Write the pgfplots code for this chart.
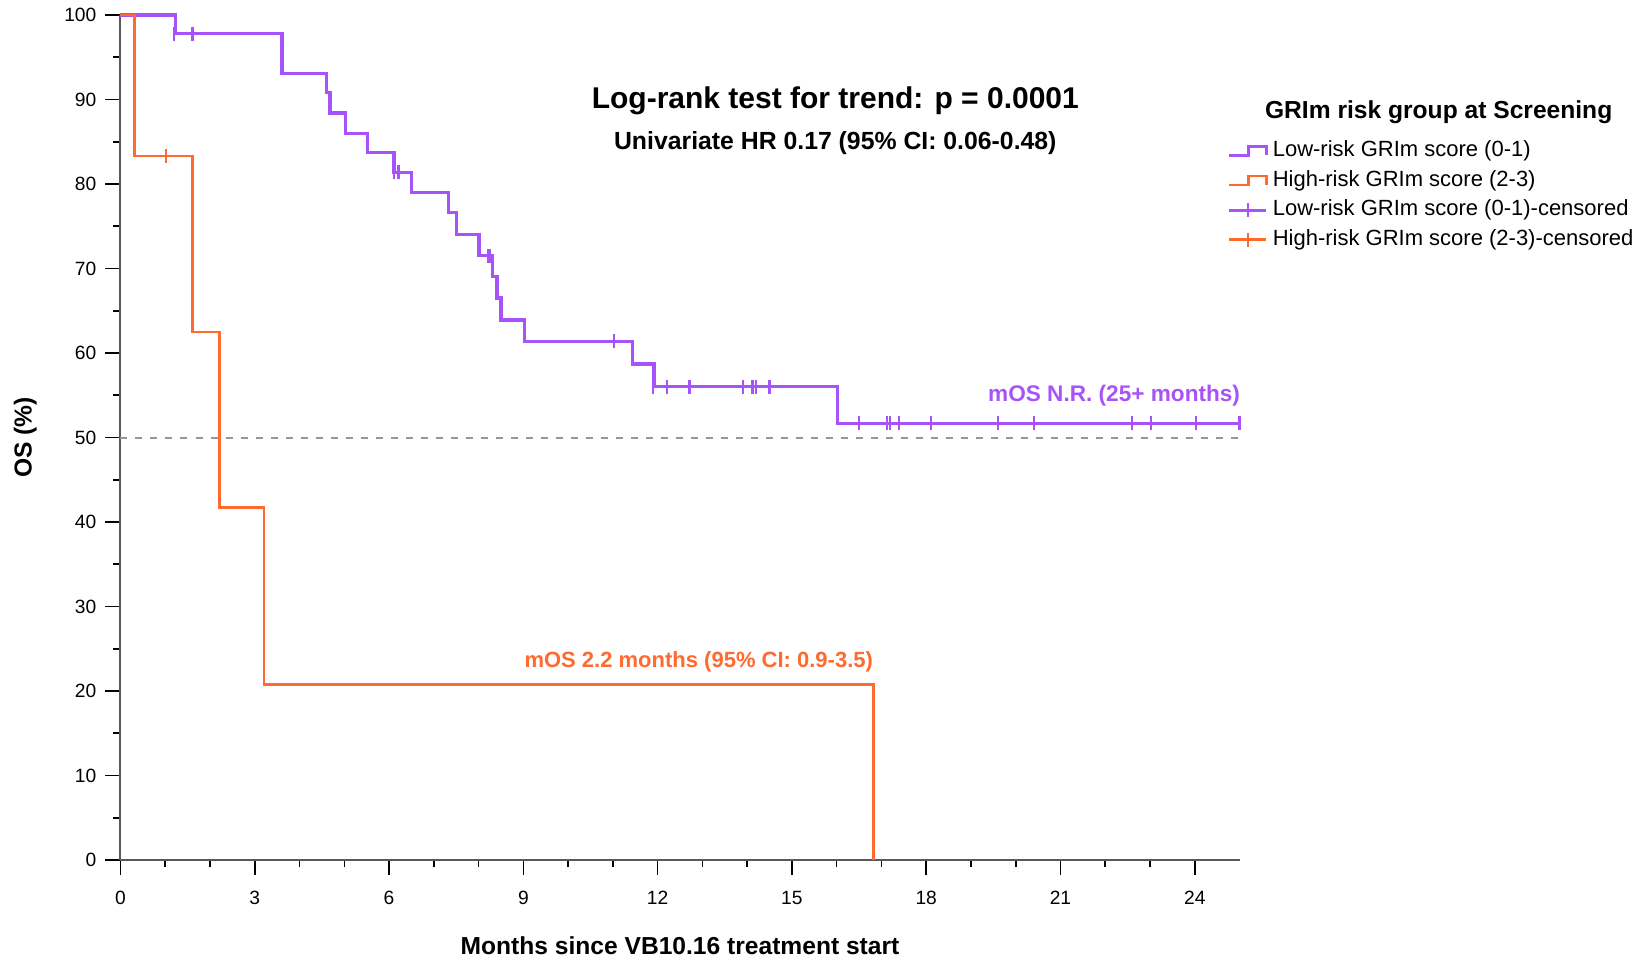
\documentclass[border=0pt]{standalone}
\usepackage{pgfplots}
\pgfplotsset{compat=1.18}
\usepackage{fontspec}
\setmainfont{Liberation Sans}
\definecolor{lowrisk}{RGB}{168,82,250}
\definecolor{highrisk}{RGB}{255,106,46}
\definecolor{refline}{RGB}{150,150,150}

\begin{document}
\begin{tikzpicture}
\useasboundingbox (-60.25pt,-49.5pt) rectangle (765.75pt,430pt);
\begin{axis}[
  scale only axis, width=559.5pt, height=422.5pt,
  xmin=0, xmax=25, ymin=0, ymax=100,
  axis lines=left, axis line style={-, line width=1pt, black!65},
  tick align=outside, major tick length=7.5pt, minor tick length=3.5pt,
  tick style={black, line width=0.8pt},
  xtick={0,3,...,24}, minor x tick num=2,
  ytick={0,10,...,100}, minor y tick num=1,
  /pgf/number format/assume math mode=true,
  ticklabel style={font=\fontsize{9.6}{11}\selectfont, inner sep=0pt},
  xticklabel style={anchor=center, yshift=-11.6pt},
  yticklabel style={anchor=east, xshift=-4.4pt},
  xlabel={\textbf{Months since VB10.16 treatment start}},
  ylabel={\textbf{OS (\%)}},
  label style={font=\fontsize{12.3}{14}\selectfont},
  xlabel style={at={(axis description cs:0.5,-0.102)}, anchor=center},
  ylabel style={at={(axis description cs:-0.085,0.5)}, anchor=center},
  clip=false,
  legend style={at={(axis description cs:0.9890,0.8520)}, anchor=north west,
    draw=none, fill=none, inner sep=0pt, row sep=4.3pt, column sep=2.5pt,
    font=\fontsize{11}{13}\selectfont,
    nodes={inner sep=0pt, text height=8pt, text depth=2.5pt}},
  legend cell align=left,
]
% median reference
\addplot[refline, line width=1pt, dash pattern=on 3.5pt off 4pt, forget plot]
  coordinates {(0,50) (25,50)};

% Kaplan-Meier steps
\addplot[lowrisk, line width=1.6pt, const plot,
  legend image code/.code={\draw[lowrisk,line width=1.6pt] (0pt,-2.25pt) -- (9.5pt,-2.25pt) -- (9.5pt,2.25pt) -- (18.5pt,2.25pt) -- (18.5pt,-2.25pt);}]
  coordinates {(0,100) (1.22,97.8) (3.61,93.1) (4.61,90.8) (4.68,88.4) (5.02,86.0)
    (5.52,83.7) (6.11,81.4) (6.51,79.0) (7.33,76.6) (7.51,74.0) (8.01,71.5)
    (8.31,69.1) (8.41,66.5) (8.50,63.9) (9.02,61.4) (11.43,58.7) (11.92,56.0)
    (16.01,51.7) (25,51.7)};
\addlegendentry{Low-risk GRIm score (0-1)}

\addplot[highrisk, line width=1.3pt, const plot,
  legend image code/.code={\draw[highrisk,line width=1.3pt] (0pt,-2.25pt) -- (9.5pt,-2.25pt) -- (9.5pt,2.25pt) -- (18.5pt,2.25pt) -- (18.5pt,-2.25pt);}]
  coordinates {(0,100) (0.31,83.3) (1.61,62.5) (2.21,41.7) (3.21,20.8) (16.82,0)};
\addlegendentry{High-risk GRIm score (2-3)}

% censored
\addplot[only marks, mark=|, mark size=3.5pt, mark options={lowrisk, line width=1.1pt},
  legend image code/.code={\draw[lowrisk,line width=1.6pt] (0pt,0pt) -- (18.5pt,0pt); \draw[lowrisk,line width=1.1pt] (9.25pt,-3.5pt) -- (9.25pt,3.5pt);}]
  coordinates {(1.2,97.8) (1.61,97.8) (6.11,81.4) (6.21,81.4) (8.21,71.5) (8.26,71.5)
    (11.02,61.4) (11.9,56.0) (12.21,56.0) (12.71,56.0) (13.91,56.0) (14.12,56.0)
    (14.2,56.0) (14.5,56.0) (16.5,51.7) (17.13,51.7) (17.2,51.7) (17.4,51.7)
    (18.11,51.7) (19.61,51.7) (20.41,51.7) (22.6,51.7) (23.02,51.7) (24.02,51.7)
    (25.0,51.7)};
\addlegendentry{Low-risk GRIm score (0-1)-censored}

\addplot[only marks, mark=|, mark size=3.5pt, mark options={highrisk, line width=1.1pt},
  legend image code/.code={\draw[highrisk,line width=1.3pt] (0pt,0pt) -- (18.5pt,0pt); \draw[highrisk,line width=1.1pt] (9.25pt,-3.5pt) -- (9.25pt,3.5pt);}]
  coordinates {(1.01,83.3)};
\addlegendentry{High-risk GRIm score (2-3)-censored}

\node[font=\bfseries\fontsize{15}{17}\selectfont] at (axis cs:15.97,89.8)
  {Log-rank test for trend: p = 0.0001};
\node[font=\bfseries\fontsize{12.4}{14}\selectfont] at (axis cs:15.97,84.8)
  {Univariate HR 0.17 (95\% CI: 0.06-0.48)};
\node[font=\bfseries\fontsize{11.3}{13}\selectfont, text=lowrisk, anchor=east, inner sep=0pt]
  at (axis cs:25.02,55.0) {mOS N.R. (25+ months)};
\node[font=\bfseries\fontsize{11}{13}\selectfont, text=highrisk, anchor=east, inner sep=0pt]
  at (axis cs:16.82,23.4) {mOS 2.2 months (95\% CI: 0.9-3.5)};
\node[font=\bfseries\fontsize{12.3}{14}\selectfont] at (axis cs:29.45,88.5)
  {GRIm risk group at Screening};
\end{axis}
\end{tikzpicture}
\end{document}
